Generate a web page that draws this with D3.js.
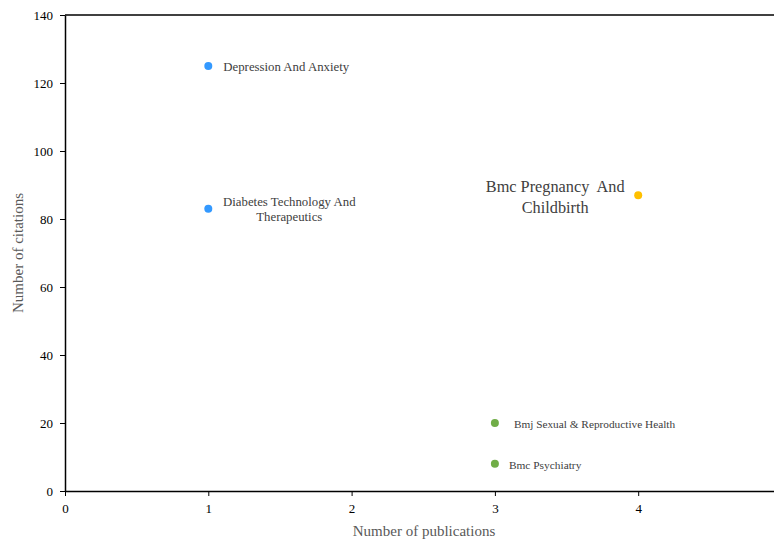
<!DOCTYPE html>
<html lang="en">
<head>
  <meta charset="UTF-8">
  <title>journals scatter</title>
  <script src="https://d3js.org/d3.v7.min.js"></script>
  <style>
    body { margin: 0; background: #fff; }
    svg text, svg tspan { font-family: "Liberation Serif", "Times New Roman", serif !important; }
  </style>
</head>
<body>
  <svg id="chart" width="774" height="539"></svg>

  <script>
    // data
    const journals = ["Depression And Anxiety", "Diabetes Technology And Therapeutics",
      "Bmc Pregnancy And Childbirth", "Bmj Sexual & Reproductive Health", "Bmc Psychiatry"];
    const publications = [1, 1, 4, 3, 3];
    const citations = [125, 83, 87, 20, 8];
    const groups = ["blue", "blue", "orange", "green", "green"];
    const xTicks = [0, 1, 2, 3, 4];
    const yTicks = [0, 20, 40, 60, 80, 100, 120, 140];

    // label placement (pixels, relative to the point)
    const labelLines = [
      ["Depression And Anxiety"],
      ["Diabetes Technology And", "Therapeutics"],
      ["Bmc Pregnancy  And", "Childbirth"],
      ["Bmj Sexual & Reproductive Health"],
      ["Bmc Psychiatry"]
    ];
    const labelStyle = [
      { dx: 15, dy: 5, anchor: "start", size: 12.8, lh: 15 },
      { dx: 81, dy: 5, anchor: "middle", size: 12.8, lh: 15 },
      { dx: -83, dy: 7, anchor: "middle", size: 16.3, lh: 21 },
      { dx: 19, dy: 5, anchor: "start", size: 11.3, lh: 15 },
      { dx: 14, dy: 5, anchor: "start", size: 11.4, lh: 15 }
    ];

    const colors = { blue: "#3399ff", orange: "#ffc000", green: "#70ad47" };
    const serif = "'Liberation Serif', 'Times New Roman', serif";

    const svg = d3.select("svg#chart");
    const padLeft = 65, padTop = 15, padBottom = 491;

    const x = d3.scaleLinear().domain([0, 5]).range([padLeft, padLeft + 716.5]);
    const y = d3.scaleLinear().domain([0, 140]).range([padBottom, padTop]);

    // top frame line
    svg.append("line")
      .attr("x1", padLeft).attr("x2", 774)
      .attr("y1", padTop).attr("y2", padTop)
      .attr("stroke", "#000").attr("stroke-width", 1.5);

    const xAxis = svg.append("g")
      .attr("transform", `translate(0,${padBottom})`)
      .call(d3.axisBottom(x).tickValues(xTicks).tickSize(5).tickSizeOuter(0).tickFormat(d3.format("d")));
    const yAxis = svg.append("g")
      .attr("transform", `translate(${padLeft},0)`)
      .call(d3.axisLeft(y).tickValues(yTicks).tickSize(5).tickSizeOuter(0));

    [xAxis, yAxis].forEach(g => {
      g.attr("font-family", serif);
      g.select(".domain").attr("stroke", "#000").attr("stroke-width", 1.5);
      g.selectAll(".tick line").attr("stroke", "#000");
      g.selectAll(".tick text")
        .style("font-family", serif)
        .attr("font-size", 13).attr("fill", "#000");
    });
    xAxis.selectAll(".tick text").attr("dy", "1.1em");
    yAxis.selectAll(".tick text").attr("x", -12);

    // axis titles
    svg.append("text")
      .attr("x", 424).attr("y", 536)
      .attr("text-anchor", "middle")
      .style("font-family", serif)
      .attr("font-size", 15).attr("fill", "#595959")
      .text("Number of publications");
    svg.append("text")
      .attr("transform", "translate(23,253) rotate(-90)")
      .attr("text-anchor", "middle")
      .style("font-family", serif)
      .attr("font-size", 15).attr("fill", "#595959")
      .text("Number of citations");

    const points = journals.map((name, i) => ({
      name: name, x: publications[i], y: citations[i], group: groups[i],
      lines: labelLines[i], style: labelStyle[i]
    }));

    svg.selectAll("circle").data(points)
      .join("circle")
      .attr("cx", d => x(d.x))
      .attr("cy", d => y(d.y))
      .attr("r", 4)
      .attr("fill", d => colors[d.group]);

    const labels = svg.selectAll("text.label").data(points)
      .join("text")
      .attr("class", "label")
      .attr("text-anchor", d => d.style.anchor)
      .style("font-family", serif)
      .attr("font-size", d => d.style.size)
      .attr("fill", "#404040");

    labels.each(function (d) {
      const n = d.lines.length;
      const y0 = y(d.y) + d.style.dy - (n - 1) * d.style.lh / 2;
      d3.select(this).selectAll("tspan").data(d.lines)
        .join("tspan")
        .attr("x", x(d.x) + d.style.dx)
        .attr("y", (t, j) => y0 + j * d.style.lh)
        .attr("xml:space", "preserve")
        .text(t => t);
    });
  </script>
</body>
</html>
